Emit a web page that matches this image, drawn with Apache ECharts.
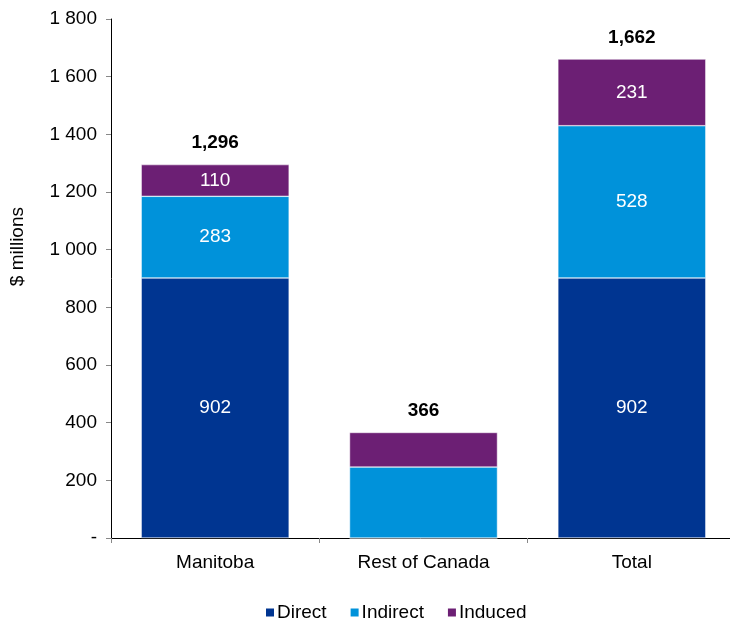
<!DOCTYPE html>
<html>
<head>
<meta charset="utf-8">
<script src="https://cdn.jsdelivr.net/npm/echarts@6/dist/echarts.min.js"></script>
<style>
  html, body { margin: 0; padding: 0; background: #fff; }
  #chart { width: 730px; height: 626px; }
</style>
</head>
<body>
<div id="chart"></div>
<script>
// Economic impact by region, $ millions
const regions = ['Manitoba', 'Rest of Canada', 'Total'];
const direct = [902, 0, 902];
const indirect = [283, 246, 528];
const induced = [110, 120, 231];
const totals = [1296, 366, 1662];
const showInner = [true, false, true];

const FONT = '"Liberation Sans", Arial, sans-serif';
const FS = 19;
const COLORS = { direct: '#003591', indirect: '#0092DA', induced: '#6C1F74' };

function fmtAxis(v) {
  if (v === 0) return '-';
  return String(v).replace(/\B(?=(\d{3})+(?!\d))/g, ' ');
}
function fmtTotal(v) {
  return String(v).replace(/\B(?=(\d{3})+(?!\d))/g, ',');
}

function segData(values) {
  return values.map((v, i) => ({
    value: v,
    label: { show: showInner[i] && v > 0 }
  }));
}

const innerLabel = {
  show: true,
  position: 'inside',
  color: '#fff',
  fontFamily: FONT,
  fontSize: FS
};

const chart = echarts.init(document.getElementById('chart'));
chart.setOption({
  animation: false,
  textStyle: { fontFamily: FONT },
  grid: { left: 111, right: -6, top: 19, bottom: 88, containLabel: false, outerBoundsMode: 'none' },
  graphic: [{
    type: 'text',
    left: 8,
    top: 207,
    rotation: Math.PI / 2,
    style: { text: '$ millions', fill: '#000', font: FS + 'px ' + FONT }
  }],
  legend: {
    data: ['Direct', 'Indirect', 'Induced'],
    bottom: -1,
    left: 259,
    itemWidth: 10,
    itemHeight: 10,
    itemGap: 22,
    icon: 'rect',
    textStyle: { fontSize: FS, color: '#000', fontFamily: FONT, padding: [0, 0, 0, -3] }
  },
  xAxis: {
    type: 'category',
    data: regions,
    axisLine: { lineStyle: { color: '#000', width: 1 } },
    axisTick: { show: true, length: 5, lineStyle: { color: '#888' } },
    axisLabel: { fontSize: FS, color: '#000', fontFamily: FONT, margin: 15 }
  },
  yAxis: {
    type: 'value',
    min: 0,
    max: 1800,
    interval: 200,
    splitLine: { show: false },
    axisLine: { show: true, lineStyle: { color: '#000', width: 1 } },
    axisTick: { show: true, length: 5, lineStyle: { color: '#888' } },
    axisLabel: { fontSize: FS, color: '#000', fontFamily: FONT, margin: 14, formatter: fmtAxis }
  },
  series: [
    {
      name: 'Direct', type: 'bar', stack: 'impact', barWidth: '71%',
      itemStyle: { color: COLORS.direct, borderColor: '#fff', borderWidth: 0.5 },
      label: innerLabel,
      data: segData(direct)
    },
    {
      name: 'Indirect', type: 'bar', stack: 'impact',
      itemStyle: { color: COLORS.indirect, borderColor: '#fff', borderWidth: 0.5 },
      label: innerLabel,
      data: segData(indirect)
    },
    {
      name: 'Induced', type: 'bar', stack: 'impact',
      itemStyle: { color: COLORS.induced, borderColor: '#fff', borderWidth: 0.5 },
      label: innerLabel,
      data: segData(induced)
    },
    {
      // zero-height bar that carries the stack total above each column
      name: 'Sum', type: 'bar', stack: 'impact',
      itemStyle: { color: 'transparent' },
      label: {
        show: true,
        position: 'top',
        distance: 12,
        color: '#000',
        fontWeight: 'bold',
        fontFamily: FONT,
        fontSize: FS,
        formatter: p => fmtTotal(totals[p.dataIndex])
      },
      data: totals.map(() => 0)
    }
  ]
});
</script>
</body>
</html>
